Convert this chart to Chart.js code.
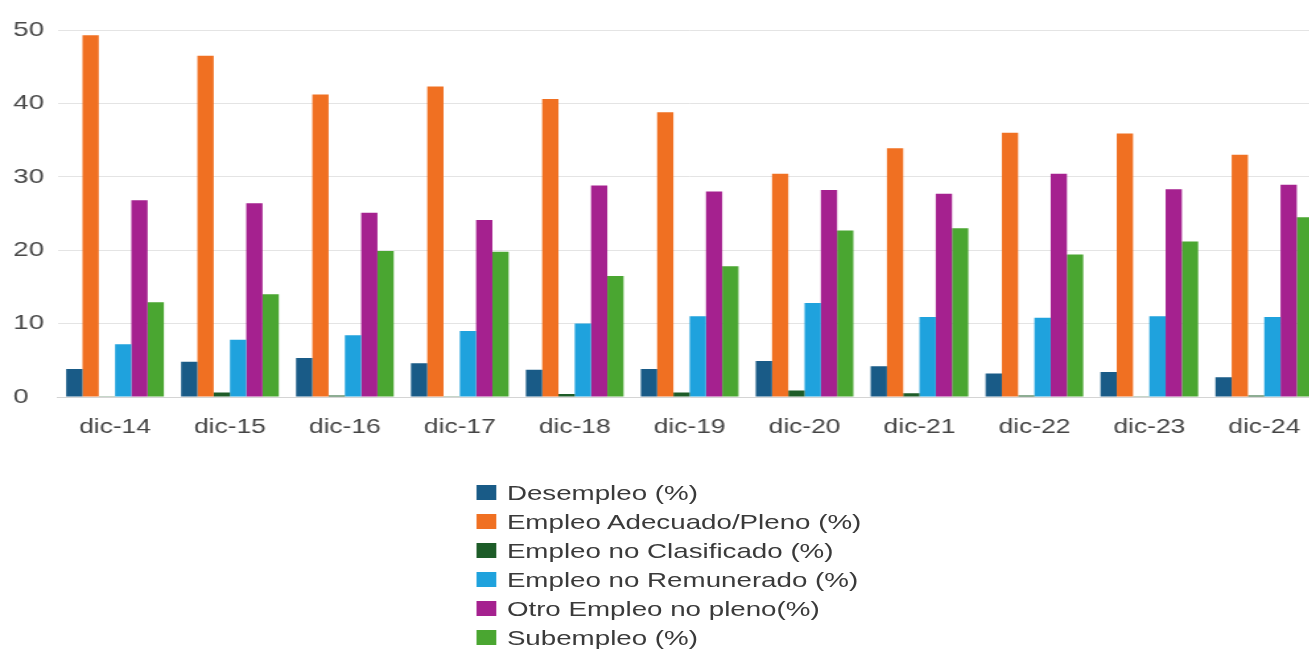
<!DOCTYPE html>
<html lang="es">
<head>
<meta charset="utf-8">
<title>Indicadores de empleo</title>
<script src="https://cdn.jsdelivr.net/npm/chart.js@4.4.1/dist/chart.umd.min.js"></script>
<style>
  html, body { margin: 0; padding: 0; background: #ffffff; overflow: hidden; }
  body { width: 1309px; height: 666px; }
  /* the whole figure is laid out on a narrower stage and widened horizontally */
  #stage {
    position: absolute; left: 0; top: 0;
    width: 1003px; height: 666px;
    transform: scaleX(1.32); transform-origin: 0 0;
  }
  #plot { position: absolute; left: 0; top: 0; width: 1003px; height: 450px; }
  #legend {
    position: absolute; left: 361px; top: 478px;
    margin: 0; padding: 0; list-style: none;
    font-family: "Liberation Sans", Arial, sans-serif; font-size: 21px; color: #3a3a3a;
  }
  #legend li { height: 29px; line-height: 29px; white-space: nowrap; display: flex; align-items: center; }
  #legend .box { width: 15px; height: 15px; margin-right: 8px; flex: none; }
</style>
</head>
<body>
<div id="stage">
  <div id="plot"><canvas id="chart"></canvas></div>
  <ul id="legend"></ul>
</div>
<script>
// Periods (December of each year)
const categories = ['dic-14', 'dic-15', 'dic-16', 'dic-17', 'dic-18', 'dic-19', 'dic-20', 'dic-21', 'dic-22', 'dic-23', 'dic-24'];

// Series, in percent
const desempleo      = [3.8, 4.8, 5.3, 4.6, 3.7, 3.8, 4.9, 4.2, 3.2, 3.4, 2.7];
const empleoAdecuado = [49.3, 46.5, 41.2, 42.3, 40.6, 38.8, 30.4, 33.9, 36.0, 35.9, 33.0];
const noClasificado  = [0.1, 0.6, 0.2, 0.1, 0.4, 0.6, 0.9, 0.5, 0.2, 0.1, 0.2];
const noRemunerado   = [7.2, 7.8, 8.4, 9.0, 10.0, 11.0, 12.8, 10.9, 10.8, 11.0, 10.9];
const otroNoPleno    = [26.8, 26.4, 25.1, 24.1, 28.8, 28.0, 28.2, 27.7, 30.4, 28.3, 28.9];
const subempleo      = [12.9, 14.0, 19.9, 19.8, 16.5, 17.8, 22.7, 23.0, 19.4, 21.2, 24.5];

// Series names
const seriesNames = [
  'Desempleo (%)',
  'Empleo Adecuado/Pleno (%)',
  'Empleo no Clasificado (%)',
  'Empleo no Remunerado (%)',
  'Otro Empleo no pleno(%)',
  'Subempleo (%)'
];

// Value axis
const yMin = 0;
const yMax = 50;
const yStep = 10;

const seriesValues = [desempleo, empleoAdecuado, noClasificado, noRemunerado, otroNoPleno, subempleo];
const seriesColors = ['#195b87', '#f07022', '#1d5c28', '#1fa2dd', '#a5218f', '#4aa631'];

const datasets = seriesNames.map((name, i) => ({
  label: name,
  data: seriesValues[i],
  backgroundColor: seriesColors[i],
  borderWidth: 0,
  barPercentage: 1.0,
  categoryPercentage: 0.85
}));

const tickFont = { family: '"Liberation Sans", Arial, sans-serif', size: 20 };

const chart = new Chart(document.getElementById('chart'), {
  type: 'bar',
  data: { labels: categories, datasets },
  options: {
    responsive: true,
    maintainAspectRatio: false,
    animation: false,
    devicePixelRatio: 1,
    layout: { padding: { left: 10, right: 0, top: 30, bottom: 0 } },
    plugins: {
      legend: { display: false },
      tooltip: { enabled: false },
      title: { display: false }
    },
    scales: {
      x: {
        grid: { display: false, drawTicks: false },
        border: { display: true, color: '#d4d4d4', width: 1 },
        ticks: { color: '#454545', font: tickFont, padding: 18, maxRotation: 0, autoSkip: false },
        afterFit: (scale) => { scale.height = 53; }
      },
      y: {
        min: yMin,
        max: yMax,
        grid: { color: '#e4e4e4', lineWidth: 1, drawTicks: false },
        border: { display: false },
        ticks: {
          stepSize: yStep,
          color: '#4a4a4a',
          font: { family: '"Liberation Sans", Arial, sans-serif', size: 21 },
          crossAlign: 'far',
          padding: 0
        },
        afterFit: (scale) => { scale.width = 33.6; }
      }
    }
  }
});

// Vertical legend built from the chart's datasets
const legendEl = document.getElementById('legend');
chart.data.datasets.forEach((ds) => {
  const li = document.createElement('li');
  const box = document.createElement('span');
  box.className = 'box';
  box.style.background = ds.backgroundColor;
  li.appendChild(box);
  li.appendChild(document.createTextNode(ds.label));
  legendEl.appendChild(li);
});
</script>
</body>
</html>
